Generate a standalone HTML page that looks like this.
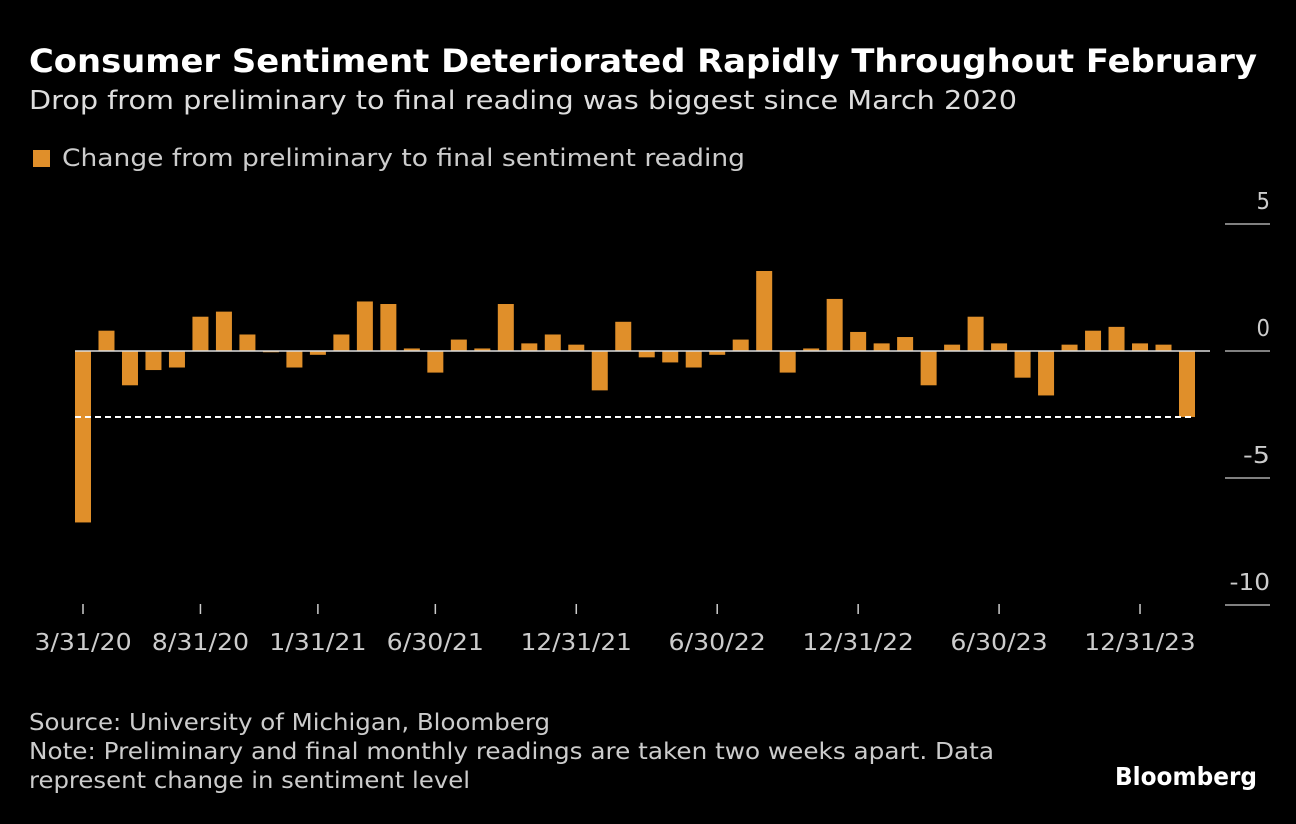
<!DOCTYPE html>
<html><head><meta charset="utf-8"><style>
body{margin:0;background:#000;width:1296px;height:824px;overflow:hidden;font-family:"DejaVu Sans","Liberation Sans",sans-serif;color:#fff}
.t{position:absolute;white-space:nowrap;transform-origin:0 0}
</style></head><body>
<div class="t fit" data-w="1228" style="left:29px;top:42px;font-size:32px;font-weight:bold">Consumer Sentiment Deteriorated Rapidly Throughout February</div>
<div class="t fit" data-w="988" style="left:29px;top:86px;font-size:26px;color:#ddd">Drop from preliminary to final reading was biggest since March 2020</div>
<div class="t" style="left:33px;top:144px;font-size:24px;color:#ccc"><span style="display:inline-block;width:17px;height:17px;background:#e08f2a;margin-right:12px;vertical-align:-1px"></span><span class="fit" data-w="683" style="display:inline-block;transform-origin:0 0">Change from preliminary to final sentiment reading</span></div>
<svg id="c" width="1296" height="824" style="position:absolute;left:0;top:0"></svg>
<div class="t fit" data-w="521" style="left:29px;top:710px;font-size:23px;color:#ccc">Source: University of Michigan, Bloomberg</div>
<div class="t fit" data-w="965" style="left:29px;top:739px;font-size:23px;color:#ccc">Note: Preliminary and final monthly readings are taken two weeks apart. Data</div>
<div class="t fit" data-w="441" style="left:29px;top:768px;font-size:23px;color:#ccc">represent change in sentiment level</div>
<div class="t fit" data-w="142" style="left:1115px;top:762px;font-size:25px;font-weight:bold">Bloomberg</div>
<script>
const values=[-6.75,0.8,-1.35,-0.75,-0.65,1.35,1.55,0.65,-0.05,-0.65,-0.15,0.65,1.95,1.85,0.1,-0.85,0.45,0.1,1.85,0.3,0.65,0.25,-1.55,1.15,-0.25,-0.45,-0.65,-0.15,0.45,3.15,-0.85,0.1,2.05,0.75,0.3,0.55,-1.35,0.25,1.35,0.3,-1.05,-1.75,0.25,0.8,0.95,0.3,0.25,-2.6];
const yTicks=[5,0,-5,-10];
const tickIdx=[0,5,10,15,21,27,33,39,45];
const tickLabels=["3/31/20","8/31/20","1/31/21","6/30/21","12/31/21","6/30/22","12/31/22","6/30/23","12/31/23"];
const refValue=values[values.length-1];
document.querySelectorAll('.fit').forEach(el=>{
 const w=el.getBoundingClientRect().width;
 el.style.transform='scaleX('+(+el.dataset.w/w)+')';
});
const svg=document.getElementById('c');const NS='http://www.w3.org/2000/svg';
const y=v=>351-v*25.4;const x=i=>83+i*(1187-83)/(values.length-1);
function mk(t,a){const e=document.createElementNS(NS,t);for(const k in a)e.setAttribute(k,a[k]);svg.appendChild(e);return e;}
yTicks.forEach(v=>{
 const l=mk('line',{x1:1225,x2:1270,y1:y(v),y2:y(v),stroke:'#ccc','stroke-width':1.2});
 
 
 const s=String(v);
 const t=mk('text',{x:1270,y:y(v)-15,'text-anchor':'end',fill:'#ccc','font-size':23,'font-family':'DejaVu Sans, sans-serif',textLength:s.length*13.5,lengthAdjust:'spacingAndGlyphs'});
 t.textContent=s;
 
 
});
values.forEach((v,i)=>{
 const r=mk('rect',{x:x(i)-8,y:Math.min(y(v),y(0)),width:16,height:Math.abs(y(v)-y(0)),fill:'#e08f2a'});
 
 
});
const z=mk('line',{x1:75,x2:1210,y1:y(0),y2:y(0),stroke:'#ddd','stroke-width':1.5});


const d=mk('line',{x1:75,x2:1195,y1:y(refValue),y2:y(refValue),stroke:'#fff','stroke-width':2,'stroke-dasharray':'6,4'});


tickIdx.forEach((ix,k)=>{
 const l=mk('line',{x1:x(ix),x2:x(ix),y1:604,y2:614,stroke:'#ccc','stroke-width':1.5});
 
 
 const s=tickLabels[k];
 const t=mk('text',{x:x(ix),y:650,'text-anchor':'middle',fill:'#ccc','font-size':23,'font-family':'DejaVu Sans, sans-serif',textLength:s.length*13.9,lengthAdjust:'spacingAndGlyphs'});
 t.textContent=s;
 
 
});
</script>
</body></html>
